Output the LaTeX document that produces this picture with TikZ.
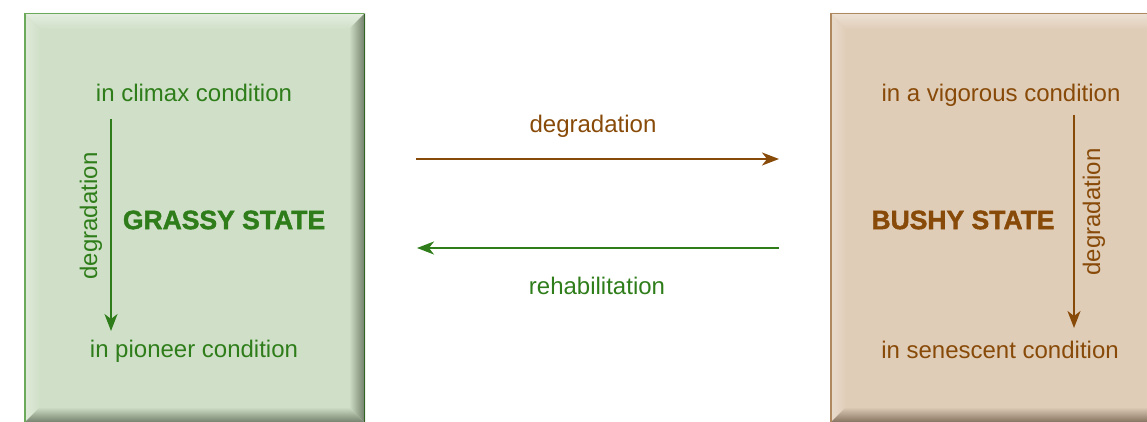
\documentclass[tikz,border=0pt]{standalone}
\usepackage{fontspec}
\setmainfont{Liberation Sans}
\newfontfamily\heavyfont[FakeBold=1.6]{Liberation Sans Bold}
\usetikzlibrary{arrows.meta}
\definecolor{gfill}{RGB}{208,224,200}
\definecolor{glight}{RGB}{230,238,226}
\definecolor{gdark}{RGB}{112,124,104}
\definecolor{gline}{RGB}{106,170,90}
\definecolor{glinedark}{RGB}{50,100,35}
\definecolor{gtext}{RGB}{46,125,26}
\definecolor{bfill}{RGB}{224,205,184}
\definecolor{blight}{RGB}{237,226,214}
\definecolor{bdark}{RGB}{128,110,92}
\definecolor{bline}{RGB}{176,136,96}
\definecolor{btext}{RGB}{136,74,8}
\tikzset{
  lbl/.style={font=\fontsize{24}{28}\selectfont, inner sep=0pt},
  statelbl/.style={font=\fontsize{26.5}{30}\selectfont\heavyfont, inner sep=0pt},
  arr/.style={line width=2pt, -{Stealth[length=17pt,width=13pt,inset=5pt]}},
}
\begin{document}
\begin{tikzpicture}[x=1pt,y=1pt]
\useasboundingbox (0,0) rectangle (1147,421);
\clip (0,0) rectangle (1147,421);
% ---- left box (grassy) ----
\fill[gfill] (24,-2) rectangle (365,408);
\shade[top color=glight, bottom color=gfill] (24,408) -- (365,408) -- (349,392) -- (40,392) -- cycle;
\shade[left color=glight!70!gfill, right color=gfill] (24,408) -- (40,392) -- (40,14) -- (24,-2) -- cycle;
\shade[left color=gfill, right color=gdark] (349,392) -- (365,408) -- (365,-2) -- (349,14) -- cycle;
\shade[top color=gfill, bottom color=gdark] (40,14) -- (349,14) -- (365,-2) -- (24,-2) -- cycle;
\draw[gline, line width=1.5pt] (24.75,-2) -- (24.75,407.25) -- (364,407.25);
\draw[glinedark, line width=1.5pt] (364.25,407.25) -- (364.25,-2);
% ---- right box (bushy) ----
\fill[bfill] (830,-2) rectangle (1170,408);
\shade[top color=blight, bottom color=bfill] (830,408) -- (1170,408) -- (1154,392) -- (846,392) -- cycle;
\shade[left color=blight!70!bfill, right color=bfill] (830,408) -- (846,392) -- (846,14) -- (830,-2) -- cycle;
\shade[top color=bfill, bottom color=bdark] (846,14) -- (1154,14) -- (1170,-2) -- (830,-2) -- cycle;
\draw[bline, line width=1.5pt] (830.75,-2) -- (830.75,407.25) -- (1170,407.25);
% ---- left texts ----
\node[lbl, text=gtext, anchor=base] (climax) at (194,319.5) {in climax condition};
\node[lbl, text=gtext, anchor=base] (pioneer) at (194,64) {in pioneer condition};
\node[statelbl, text=gtext] (grassy) at (224,201) {GRASSY STATE};
\coordinate (la) at (111,302);
\coordinate (lb) at (111,90);
\draw[arr, gtext] (la) -- (lb);
\node[lbl, text=gtext, rotate=90] (ldeg) at (91,205) {degradation};
% ---- right texts ----
\node[lbl, text=btext, anchor=base] (vigor) at (1001,319.5) {in a vigorous condition};
\node[lbl, text=btext, anchor=base] (senes) at (1000,63) {in senescent condition};
\node[statelbl, text=btext] (bushy) at (963,201) {BUSHY STATE};
\coordinate (ra) at (1074,306);
\coordinate (rb) at (1074,93);
\draw[arr, btext] (ra) -- (rb);
\node[lbl, text=btext, rotate=90] (rdeg) at (1094,209) {degradation};
% ---- middle arrows ----
\coordinate (ma) at (416,262);
\coordinate (mb) at (779,262);
\draw[arr, btext] (ma) -- (mb);
\node[lbl, text=btext, anchor=base] (mdeg) at (593,288) {degradation};
\coordinate (mc) at (779,173);
\coordinate (md) at (417,173);
\draw[arr, gtext] (mc) -- (md);
\node[lbl, text=gtext, anchor=base] (mreh) at (597,127) {rehabilitation};
\end{tikzpicture}
\end{document}
